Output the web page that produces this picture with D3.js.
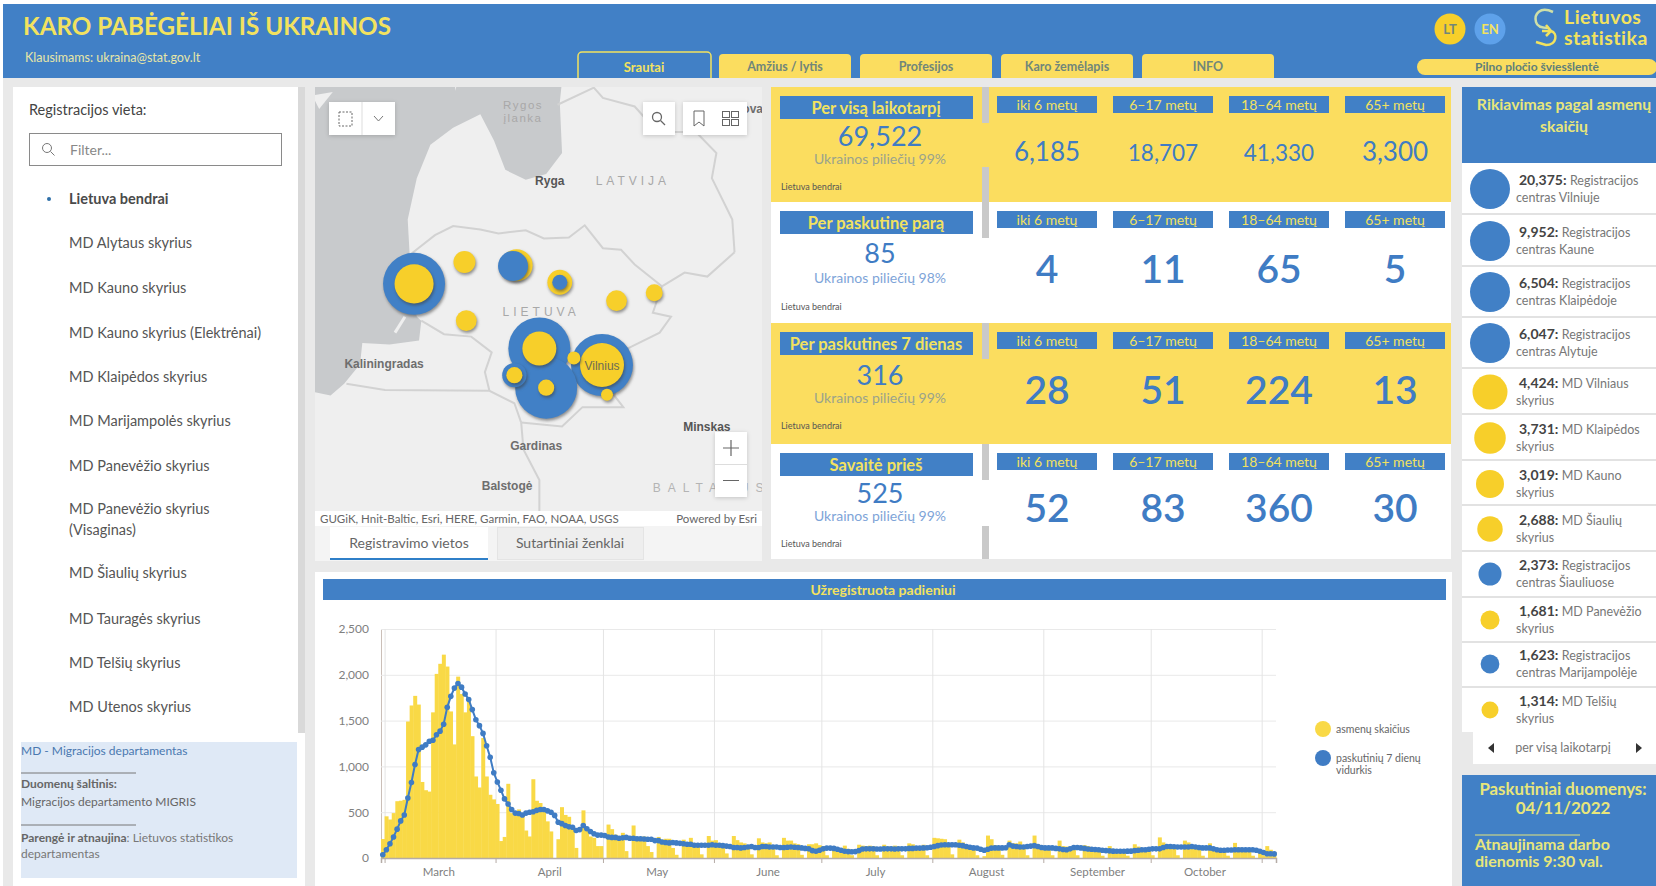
<!DOCTYPE html>
<html>
<head>
<meta charset="utf-8">
<title>Karo pabėgėliai iš Ukrainos</title>
<script src="https://cdn.jsdelivr.net/npm/d3@7"></script>
<style>
  html, body { margin: 0; padding: 0; background: #fff; overflow: hidden; }
  text { font-family: Lato, "Open Sans", sans-serif; }
  .map-label { font-family: "Liberation Sans", Arial, sans-serif; }
  .bubble { filter: drop-shadow(1.5px 2px 1.5px rgba(60, 60, 60, 0.55)); }
</style>
</head>
<body>
<div id="wrapper"></div>
<script>
// daily registrations
const febCounts = [207];
const marCounts = [455, 420, 490, 620, 625, 635, 1490, 1665, 1770, 1675, 830, 740, 725, 1590, 2010, 2120, 2220, 2090, 1600, 1240, 1980, 1790, 1590, 1750, 1330, 890, 770, 1310, 890, 690, 640];
const aprCounts = [590, 185, 230, 810, 490, 490, 530, 490, 300, 235, 860, 625, 600, 545, 400, 290, 0, 205, 555, 470, 450, 310, 110, 0, 520, 310, 235, 220, 130, 130];
const mayCounts = [0, 365, 315, 255, 235, 275, 75, 0, 355, 230, 230, 235, 130, 65, 0, 230, 200, 210, 210, 110, 35, 0, 200, 165, 220, 165, 145, 40, 0, 240, 190];
const junCounts = [195, 165, 150, 50, 0, 240, 195, 170, 160, 140, 40, 0, 215, 170, 160, 170, 140, 30, 0, 220, 190, 190, 160, 150, 35, 0, 150, 150, 160, 140];
const julCounts = [130, 30, 0, 130, 100, 60, 135, 100, 30, 0, 145, 135, 130, 135, 130, 30, 0, 145, 125, 125, 135, 125, 30, 0, 160, 150, 130, 130, 145, 30, 0];
const augCounts = [220, 215, 210, 205, 150, 40, 0, 200, 170, 130, 130, 120, 30, 0, 20, 245, 205, 140, 130, 35, 0, 190, 160, 160, 180, 130, 30, 0, 245, 150, 130];
const sepCounts = [125, 120, 30, 0, 190, 130, 125, 120, 115, 30, 0, 140, 130, 110, 100, 100, 25, 0, 130, 100, 95, 90, 90, 25, 0, 150, 125, 110, 100, 90];
const octCounts = [30, 0, 225, 170, 130, 125, 120, 30, 0, 190, 170, 130, 120, 110, 25, 0, 160, 115, 110, 100, 95, 25, 0, 165, 115, 110, 105, 100, 25, 0, 90];
const novCounts = [30, 130, 90, 65];

// last 7 days average
const febAvg = [35];
const marAvg = [90, 155, 230, 315, 405, 470, 655, 825, 1020, 1185, 1210, 1235, 1275, 1285, 1345, 1385, 1460, 1645, 1765, 1855, 1905, 1865, 1790, 1730, 1620, 1510, 1445, 1360, 1225, 1100, 930];
const aprAvg = [830, 740, 645, 590, 530, 490, 485, 470, 490, 500, 505, 520, 530, 530, 515, 500, 465, 390, 375, 355, 340, 335, 300, 310, 355, 320, 290, 265, 250, 250];
const mayAvg = [245, 230, 225, 225, 215, 220, 225, 215, 215, 210, 210, 208, 205, 205, 190, 190, 175, 170, 165, 170, 165, 160, 155, 150, 150, 140, 140, 140, 140, 140, 145];
const junAvg = [140, 140, 135, 130, 125, 115, 115, 110, 115, 120, 125, 115, 115, 125, 125, 120, 120, 120, 115, 115, 118, 120, 118, 115, 110, 105, 100, 80, 73, 85];
const julAvg = [100, 108, 108, 105, 95, 85, 73, 70, 68, 70, 80, 98, 100, 100, 100, 98, 98, 100, 100, 100, 98, 100, 100, 100, 105, 105, 108, 108, 110, 112, 118];
const augAvg = [125, 135, 142, 145, 145, 145, 145, 140, 135, 125, 118, 110, 108, 95, 85, 95, 108, 110, 110, 110, 112, 145, 130, 125, 120, 120, 125, 130, 135, 125, 115];
const sepAvg = [110, 110, 110, 105, 100, 92, 90, 100, 115, 115, 110, 105, 98, 95, 92, 90, 85, 80, 78, 75, 73, 73, 73, 75, 75, 80, 85, 90, 90, 95];
const octAvg = [100, 100, 100, 115, 125, 125, 122, 120, 120, 120, 120, 125, 120, 115, 110, 110, 110, 100, 90, 85, 85, 88, 88, 90, 90, 90, 90, 90, 90, 85, 73];
const novAvg = [60, 47, 47, 45];

const dailyCounts = [].concat(febCounts, marCounts, aprCounts, mayCounts, junCounts, julCounts, augCounts, sepCounts, octCounts, novCounts);
const dailyAvg = [].concat(febAvg, marAvg, aprAvg, mayAvg, junAvg, julAvg, augAvg, sepAvg, octAvg, novAvg);
const yTicks = [0, 500, 1000, 1500, 2000, 2500];

// summary table
const periodTitles = ["Per visą laikotarpį", "Per paskutinę parą", "Per paskutines 7 dienas", "Savaitė prieš"];
const periodTotals = ["69,522", "85", "316", "525"];
const periodShares = ["Ukrainos piliečių 99%", "Ukrainos piliečių 98%", "Ukrainos piliečių 99%", "Ukrainos piliečių 99%"];
const ageGroups = ["iki 6 metų", "6–17 metų", "18–64 metų", "65+ metų"];
const ageValues = [
  ["6,185", "18,707", "41,330", "3,300"],
  ["4", "11", "65", "5"],
  ["28", "51", "224", "13"],
  ["52", "83", "360", "30"],
];

// ranking on the right
const rankCounts = [20375, 9952, 6504, 6047, 4424, 3731, 3019, 2688, 2373, 1681, 1623, 1314];
const rankFirstLine = ["Registracijos", "Registracijos", "Registracijos", "Registracijos", "MD Vilniaus", "MD Klaipėdos", "MD Kauno", "MD Šiaulių", "Registracijos", "MD Panevėžio", "Registracijos", "MD Telšių"];
const rankSecondLine = ["centras Vilniuje", "centras Kaune", "centras Klaipėdoje", "centras Alytuje", "skyrius", "skyrius", "skyrius", "skyrius", "centras Šiauliuose", "skyrius", "centras Marijampolėje", "skyrius"];
const rankIsCentre = [true, true, true, true, false, false, false, false, true, false, true, false];

// filter list
const placeList = ["Lietuva bendrai", "MD Alytaus skyrius", "MD Kauno skyrius", "MD Kauno skyrius (Elektrėnai)", "MD Klaipėdos skyrius", "MD Marijampolės skyrius", "MD Panevėžio skyrius", "MD Panevėžio skyrius", "(Visaginas)", "MD Šiaulių skyrius", "MD Tauragės skyrius", "MD Telšių skyrius", "MD Utenos skyrius"];

// map bubbles: lon, lat, persons (small ones estimated)
const bubbleLon = [25.28, 23.9, 21.14, 24.05, 23.32, 24.35, 23.35, 25.28, 21.14, 23.9, 23.4, 24.35, 22.25, 22.29, 25.6, 26.43, 23.35, 24.05, 24.66, 25.39];
const bubbleLat = [54.69, 54.9, 55.71, 54.4, 55.93, 55.73, 54.56, 54.69, 55.71, 54.9, 55.94, 55.73, 55.98, 55.25, 55.5, 55.6, 54.56, 54.4, 54.78, 54.31];
const bubbleCount = [20375, 9952, 6504, 6047, 2373, 680, 1623, 4424, 3731, 3019, 2688, 1681, 1314, 1200, 1200, 850, 780, 780, 500, 400];
const bubbleIsCentre = [true, true, true, true, true, true, true, false, false, false, false, false, false, false, false, false, false, false, false, false];

// base map outlines as lon/lat
const seaOutline = [[17, 60], [24.5, 60], [24.45, 58.4], [24.35, 57.9], [24.4, 57.3], [24.05, 57.05], [23.6, 56.98], [23.15, 57.1], [22.9, 57.45], [22.6, 57.76], [22.0, 57.6], [21.5, 57.4], [21.2, 57.0], [21.0, 56.5], [21.05, 56.0], [21.07, 55.72], [21.2, 55.3], [21.3, 55.25], [21.25, 55.0], [20.6, 54.95], [20.0, 54.97], [19.95, 54.7], [19.6, 54.45], [19.3, 54.3], [18.9, 54.35], [18.6, 54.4], [17, 54.6]];
const saaremaaOutline = [[22.0, 58.4], [22.05, 58.03], [22.2, 58.4]];
const gotlandOutline = [[18.9, 57.98], [19.35, 58.02], [19.05, 57.82]];
const spitLine = [[20.94, 55.3], [20.72, 55.1]];
const borders = [
  [[21.05, 56.07], [21.6, 56.31], [22.0, 56.42], [22.6, 56.38], [23.0, 56.33], [23.6, 56.37], [24.0, 56.27], [24.55, 56.28], [24.9, 56.43], [25.3, 56.15], [25.7, 56.13], [26.0, 55.95], [26.6, 55.68]],
  [[26.6, 55.68], [26.4, 55.35], [26.8, 55.3], [26.55, 55.1], [25.85, 54.9], [25.75, 54.6], [25.55, 54.3], [25.75, 54.15], [25.5, 54.15], [24.85, 54.15], [24.4, 53.9], [23.5, 53.95]],
  [[21.3, 55.25], [21.8, 55.08], [22.4, 55.05], [22.85, 54.85], [22.7, 54.6], [22.8, 54.36]],
  [[19.65, 54.45], [20.5, 54.37], [22.8, 54.36], [23.35, 54.2], [23.5, 53.95]],
  [[23.5, 53.95], [23.55, 53.6], [23.9, 53.2], [23.9, 52.7]],
  [[26.6, 55.68], [27.1, 55.85], [27.6, 55.8], [28.2, 56.1]],
  [[24.3, 57.87], [25.1, 58.07], [25.3, 57.95], [26.0, 57.85], [26.5, 57.55], [27.35, 57.55], [27.8, 57.3], [27.7, 57.0], [28.15, 56.5], [28.2, 56.1]],
];
const cityNames = ["Ryga", "Kaliningradas", "Gardinas", "Minskas", "Balstogė", "ova", "Gdańskas"];
const cityCoords = [[24.13, 56.97], [20.48, 54.7], [23.83, 53.65], [27.59, 53.89], [23.19, 53.12], [28.6, 57.82], [18.15, 54.35]];
const areaNames = ["Rygos", "įlanka", "LATVIJA", "LIETUVA"];
const areaCoords = [[23.54, 57.87], [23.54, 57.71], [25.96, 56.97], [23.94, 55.36]];

const blue = "#4180c6";
const yellow = "#f9d946";
const rowYellow = "#fbdd5f";
const bubbleYellow = "#f7cf2a";
const titleYellow = "#f2e25f";
const pale = "#e9e9e9";

const wrapper = d3
  .select("#wrapper")
  .append("svg")
  .attr("width", 1656)
  .attr("height", 886)
  .style("display", "block");

function rect(parent, x, y, w, h, fill, rx) {
  return parent
    .append("rect")
    .attr("x", x)
    .attr("y", y)
    .attr("width", w)
    .attr("height", h)
    .attr("fill", fill)
    .attr("rx", rx || 0);
}

function label(parent, x, y, str, size, fill, anchor, weight) {
  return parent
    .append("text")
    .attr("x", x)
    .attr("y", y)
    .attr("font-size", size)
    .attr("fill", fill)
    .attr("text-anchor", anchor || "start")
    .attr("font-weight", weight || 400)
    .text(str);
}

function hline(parent, x1, x2, y, color) {
  return parent
    .append("line")
    .attr("x1", x1)
    .attr("x2", x2)
    .attr("y1", y)
    .attr("y2", y)
    .attr("stroke", color)
    .attr("stroke-width", 1);
}

// header

const header = wrapper.append("g");
rect(header, 3, 4, 1653, 76, blue);
label(header, 23, 35, "KARO PABĖGĖLIAI IŠ UKRAINOS", 25, titleYellow, "start", 700)
  .attr("textLength", 368)
  .attr("lengthAdjust", "spacingAndGlyphs");
label(header, 25, 62, "Klausimams: ukraina@stat.gov.lt", 12.5, "#e6e6a6");

const tabNames = ["Amžius / lytis", "Profesijos", "Karo žemėlapis", "INFO"];
const tabScale = d3.scalePoint().domain(tabNames).range([785, 1208]);
tabNames.forEach((name) => {
  rect(header, tabScale(name) - 66, 54, 132, 30, rowYellow, 4);
  label(header, tabScale(name), 71, name, 12.5, "#71867a", "middle", 700);
});

rect(header, 578, 52, 133, 32, blue, 4)
  .attr("stroke", "#f2e25f")
  .attr("stroke-width", 1.5);
label(header, 644, 72, "Srautai", 13, titleYellow, "middle", 700);

rect(header, 1417, 59, 240, 16, rowYellow, 8);
label(header, 1537, 71, "Pilno pločio šviesšlentė", 12, "#5f7f7a", "middle", 700);

header.append("circle").attr("cx", 1450).attr("cy", 29).attr("r", 15.5).attr("fill", "#f7cf2a");
label(header, 1450, 34, "LT", 13, "#71867a", "middle", 700);
header.append("circle").attr("cx", 1490).attr("cy", 29).attr("r", 15.5).attr("fill", "#5ea1ea");
label(header, 1490, 34, "EN", 13, titleYellow, "middle", 700);

// logo swirl
header
  .append("path")
  .attr("d", "M1553 12 C1540 6 1534 14 1536 22 C1537 27 1543 28 1549 28")
  .attr("fill", "none")
  .attr("stroke", "#cfe0a8")
  .attr("stroke-width", 2.5);
header
  .append("path")
  .attr("d", "M1542 31 L1551 31 C1558 33 1557 45 1546 45 L1536 42 M1546 25 L1551 31 L1546 36")
  .attr("fill", "none")
  .attr("stroke", titleYellow)
  .attr("stroke-width", 2.5);
label(header, 1564, 24, "Lietuvos", 19.5, titleYellow, "start", 700).attr("letter-spacing", 0.5);
label(header, 1564, 45, "statistika", 19.5, titleYellow, "start", 700).attr("letter-spacing", 0.5);

// body background, covers the lower edge of the tabs
rect(wrapper, 0, 78, 1656, 808, pale);
rect(wrapper, 0, 0, 3, 886, "#fff");

// left panel

const leftPanel = wrapper.append("g");
rect(leftPanel, 13, 87, 292, 799, "#fff");
rect(leftPanel, 298, 87, 7, 646, "#d9d9d9");
label(leftPanel, 29, 115, "Registracijos vieta:", 14.5, "#444");
rect(leftPanel, 29.5, 133.5, 252, 32, "#fff").attr("stroke", "#8a8a8a");
leftPanel.append("circle").attr("cx", 47).attr("cy", 148).attr("r", 4.5).attr("fill", "none").attr("stroke", "#777");
leftPanel.append("line").attr("x1", 50.5).attr("y1", 151.5).attr("x2", 54.5).attr("y2", 155.5).attr("stroke", "#777");
label(leftPanel, 70, 155, "Filter...", 14, "#888");

// baselines from the list widget, Visaginas wraps to a second line
const placeBaselines = [204, 248, 293, 338, 382, 426, 471, 514, 535, 578, 624, 668, 712];
leftPanel
  .selectAll("text.place")
  .data(placeList)
  .enter()
  .append("text")
  .attr("class", "place")
  .attr("x", 69)
  .attr("y", (d, i) => placeBaselines[i])
  .attr("font-size", 14.5)
  .attr("font-weight", (d, i) => (i === 0 ? 700 : 400))
  .attr("fill", (d, i) => (i === 0 ? "#4a4a4a" : "#555"))
  .text((d) => d);
leftPanel.append("circle").attr("cx", 49).attr("cy", 199).attr("r", 2).attr("fill", "#2f6fa8");

rect(leftPanel, 21, 742, 276, 136, "#dfe9f6");
label(leftPanel, 21, 755, "MD - Migracijos departamentas", 12, "#4a78b0");
hline(leftPanel, 21, 136, 773, "#777");
label(leftPanel, 21, 788, "Duomenų šaltinis:", 12, "#666", "start", 700);
label(leftPanel, 21, 806, "Migracijos departamento MIGRIS", 12, "#666");
hline(leftPanel, 21, 136, 825, "#777");
const preparedBy = label(leftPanel, 21, 842, "", 12, "#777");
preparedBy.append("tspan").attr("font-weight", 700).attr("fill", "#666").text("Parengė ir atnaujina");
preparedBy.append("tspan").text(": Lietuvos statistikos");
label(leftPanel, 21, 858, "departamentas", 12, "#777");

// map panel

const mapPanel = wrapper.append("g");
rect(mapPanel, 315, 87, 447, 474, "#f4f4f4");

const clip = wrapper.append("clipPath").attr("id", "map-clip");
rect(clip, 315, 87, 447, 424, "#fff");

const mapArea = mapPanel.append("g").attr("clip-path", "url(#map-clip)");
rect(mapArea, 315, 87, 447, 424, "#efefef");

const projection = d3.geoMercator().scale(2601).center([25.28, 54.69]).translate([602, 365]);
const lonLatLine = d3
  .line()
  .x((d) => projection(d)[0])
  .y((d) => projection(d)[1]);

mapArea.append("path").attr("d", lonLatLine(seaOutline) + "Z").attr("fill", "#c8cacc");
mapArea.append("path").attr("d", lonLatLine(saaremaaOutline) + "Z").attr("fill", "#efefef");
mapArea.append("path").attr("d", lonLatLine(gotlandOutline) + "Z").attr("fill", "#efefef");
mapArea
  .append("path")
  .attr("d", lonLatLine(spitLine))
  .attr("fill", "none")
  .attr("stroke", "#efefef")
  .attr("stroke-width", 3);
mapArea
  .selectAll("path.border")
  .data(borders)
  .enter()
  .append("path")
  .attr("class", "border")
  .attr("d", (d) => lonLatLine(d))
  .attr("fill", "none")
  .attr("stroke", "#d2d2d2")
  .attr("stroke-width", 2);

mapArea
  .selectAll("text.area")
  .data(areaNames)
  .enter()
  .append("text")
  .attr("class", "area map-label")
  .attr("x", (d, i) => projection(areaCoords[i])[0])
  .attr("y", (d, i) => projection(areaCoords[i])[1] + 4)
  .attr("text-anchor", "middle")
  .attr("font-size", (d, i) => (i < 2 ? 11.5 : 12))
  .attr("letter-spacing", (d, i) => (i < 2 ? 1.5 : 4))
  .attr("fill", "#a8a8a8")
  .text((d) => d);

mapArea
  .selectAll("text.city")
  .data(cityNames)
  .enter()
  .append("text")
  .attr("class", "city map-label")
  .attr("x", (d, i) => projection(cityCoords[i])[0])
  .attr("y", (d, i) => projection(cityCoords[i])[1] + 4)
  .attr("text-anchor", "middle")
  .attr("font-size", 12)
  .attr("font-weight", 700)
  .attr("fill", (d, i) => (i === 0 || i === 3 ? "#555" : "#6e6e6e"))
  .text((d) => d);

const mapRadius = d3
  .scaleLinear()
  .domain([400, 1314, 2373, 3019, 4424, 6047])
  .range([6, 11, 15, 17, 22, 31])
  .clamp(true);

const bubbleOrder = d3.range(bubbleCount.length).sort((a, b) => mapRadius(bubbleCount[b]) - mapRadius(bubbleCount[a]));

mapArea
  .selectAll("circle.bubble")
  .data(bubbleOrder)
  .enter()
  .append("circle")
  .attr("class", "bubble")
  .attr("cx", (i) => projection([bubbleLon[i], bubbleLat[i]])[0])
  .attr("cy", (i) => projection([bubbleLon[i], bubbleLat[i]])[1])
  .attr("r", (i) => mapRadius(bubbleCount[i]))
  .attr("fill", (i) => (bubbleIsCentre[i] ? blue : bubbleYellow));

const vilniusPos = projection([25.28, 54.69]);
label(mapArea, vilniusPos[0], vilniusPos[1] + 5, "Vilnius", 12, "#6b6b55", "middle", 400).attr("class", "map-label");

label(mapArea, projection([26.4, 53.1])[0], projection([26.4, 53.1])[1] + 4, "BALTARUSIJA", 12, "#b4b4b4")
  .attr("class", "map-label")
  .attr("letter-spacing", 7);

// map widgets
function widget(x, y, w, h) {
  return rect(mapPanel, x, y, w, h, "#fff").style("filter", "drop-shadow(0 1px 2px rgba(0,0,0,0.18))");
}
widget(329, 102, 66, 33);
mapPanel.append("line").attr("x1", 362).attr("x2", 362).attr("y1", 102).attr("y2", 135).attr("stroke", "#ddd");
rect(mapPanel, 339, 112, 13, 14, "none").attr("stroke", "#666").attr("stroke-dasharray", "2 1.5");
mapPanel.append("path").attr("d", "M374 116 L378.5 121 L383 116").attr("fill", "none").attr("stroke", "#777");
widget(643, 102, 32, 33);
mapPanel.append("circle").attr("cx", 657).attr("cy", 117).attr("r", 4.5).attr("fill", "none").attr("stroke", "#666").attr("stroke-width", 1.3);
mapPanel.append("line").attr("x1", 660.5).attr("y1", 120.5).attr("x2", 665).attr("y2", 125).attr("stroke", "#666").attr("stroke-width", 1.3);
widget(683, 102, 64, 33);
mapPanel.append("path").attr("d", "M694 111 H704 V126 L699 122 L694 126 Z").attr("fill", "none").attr("stroke", "#666");
d3.range(4).forEach((i) => {
  rect(mapPanel, 722.5 + (i % 2) * 9, 111.5 + Math.floor(i / 2) * 8, 7, 6, "none").attr("stroke", "#666");
});
widget(715, 432, 32, 65);
hline(mapPanel, 715, 747, 464.5, "#ddd");
mapPanel.append("path").attr("d", "M723 448 H739 M731 440 V456 M723 480.5 H739").attr("stroke", "#666").attr("stroke-width", 1.2);

rect(mapPanel, 315, 511, 447, 15, "#fff");
label(mapPanel, 320, 523, "GUGiK, Hnit-Baltic, Esri, HERE, Garmin, FAO, NOAA, USGS", 11.5, "#666");
label(mapPanel, 757, 523, "Powered by Esri", 11.5, "#666", "end");

rect(mapPanel, 330, 527, 158, 33, "#fff");
rect(mapPanel, 330, 558, 158, 2, "#2f7fc8");
label(mapPanel, 409, 548, "Registravimo vietos", 14, "#666", "middle");
rect(mapPanel, 497.5, 527.5, 146, 32, "#eeeeee").attr("stroke", "#e4e4e4");
label(mapPanel, 570, 548, "Sutartiniai ženklai", 14, "#666", "middle");

// summary table

const table = wrapper.append("g");
const rowTop = [87, 202, 323, 444];
const rowBottom = [202, 323, 444, 559];
const ageCenter = d3.scalePoint().domain(d3.range(4)).range([1047, 1395]);
const totalBaseline = [59, 61, 62, 59];
const shareBaseline = [77, 81, 80, 77];
const footBaseline = [103, 108, 106, 103];
const valueBaseline = [74, 81, 81, 78];

function valueSize(r, value) {
  if (r > 0) return 39;
  return value.length > 5 ? 22.5 : 26;
}

periodTitles.forEach((title, r) => {
  const top = rowTop[r];
  const isYellow = r % 2 === 0;
  rect(table, 771, top, 680, rowBottom[r] - top, isYellow ? rowYellow : "#fff");
  rect(table, 780, top + 9, 193, 23, blue);
  label(table, 876, top + 27, title, 16.5, titleYellow, "middle", 700);
  label(table, 880, top + totalBaseline[r], periodTotals[r], 27, "#3f7cc4", "middle");
  label(table, 880, top + shareBaseline[r], periodShares[r], 14, isYellow ? "#9aa38c" : "#7ea4d8", "middle");
  label(table, 781, top + footBaseline[r], "Lietuva bendrai", 9, "#555");
  rect(table, 982, top, 7, 36, "#c9c9c9");
  ageGroups.forEach((group, c) => {
    const x = ageCenter(c);
    rect(table, x - 50, top + 9, 100, 17, blue);
    label(table, x, top + 22.5, group, 14, titleYellow, "middle");
    label(table, x, top + valueBaseline[r], ageValues[r][c], valueSize(r, ageValues[r][c]), "#3f7cc4", "middle", r === 0 ? 400 : 600);
  });
});
rect(table, 982, 167, 7, 35, "#c9c9c9");
rect(table, 982, 526, 7, 33, "#c9c9c9");

// daily chart

const dimensions = {
  left: 381,
  right: 1276,
  top: 629,
  bottom: 858,
};
const chartPanel = wrapper.append("g");
rect(chartPanel, 315, 572, 1137, 314, "#fff");
rect(chartPanel, 323, 579, 1123, 21, blue);
label(chartPanel, 883, 595, "Užregistruota padieniui", 14, titleYellow, "middle", 700);

const days = d3.utcDay.range(new Date(Date.UTC(2022, 1, 28)), new Date(Date.UTC(2022, 10, 5)));
const monthStarts = d3.utcMonth.range(new Date(Date.UTC(2022, 2, 1)), new Date(Date.UTC(2022, 10, 2)));
const monthLabels = d3.utcMonth
  .range(new Date(Date.UTC(2022, 2, 1)), new Date(Date.UTC(2022, 9, 2)))
  .map((d) => d3.utcDay.offset(d, 15));

const xScale = d3
  .scaleUtc()
  .domain([days[0], d3.utcDay.offset(days[days.length - 1], 1)])
  .range([dimensions.left, dimensions.right]);
const yScale = d3.scaleLinear().domain([0, 2500]).range([dimensions.bottom, dimensions.top]);
const barWidth = xScale(days[1]) - xScale(days[0]);

const yGrid = chartPanel
  .append("g")
  .attr("transform", `translate(${dimensions.left}, 0)`)
  .call(d3.axisLeft(yScale).tickValues(yTicks).tickSize(-(dimensions.right - dimensions.left)).tickFormat(d3.format(",")));
yGrid.select(".domain").attr("stroke", "#cbbfb8");
yGrid.selectAll("line").attr("stroke", "#e9e9e9");
yGrid.selectAll("text").attr("x", -12).attr("fill", "#808080").attr("font-size", 12);

const xGrid = chartPanel
  .append("g")
  .attr("transform", `translate(0, ${dimensions.bottom})`)
  .call(d3.axisBottom(xScale).tickValues(monthStarts).tickSize(-(dimensions.bottom - dimensions.top)).tickFormat(""));
xGrid.select(".domain").remove();
xGrid.selectAll("line").attr("stroke", "#e4e4e4");

chartPanel
  .selectAll("rect.bar")
  .data(dailyCounts)
  .enter()
  .append("rect")
  .attr("class", "bar")
  .attr("x", (d, i) => xScale(days[i]))
  .attr("y", (d) => yScale(d))
  .attr("width", barWidth + 0.4)
  .attr("height", (d) => yScale(0) - yScale(d))
  .attr("fill", yellow);

const xTicks = chartPanel
  .append("g")
  .attr("transform", `translate(0, ${dimensions.bottom})`)
  .call(d3.axisBottom(xScale).tickValues(monthStarts).tickSize(5).tickFormat(""));
xTicks.select(".domain").attr("stroke", "#b5aca6").attr("stroke-width", 1.5);
xTicks.selectAll("line").attr("stroke", "#b5aca6");

const xLabels = chartPanel
  .append("g")
  .attr("transform", `translate(0, ${dimensions.bottom})`)
  .call(d3.axisBottom(xScale).tickValues(monthLabels).tickSize(0).tickPadding(10).tickFormat(d3.utcFormat("%B")));
xLabels.select(".domain").remove();
xLabels.selectAll("text").attr("fill", "#808080").attr("font-size", 11.5);

const avgLine = d3
  .line()
  .x((d, i) => xScale(days[i]) + barWidth / 2)
  .y((d) => yScale(d));
chartPanel
  .append("path")
  .attr("d", avgLine(dailyAvg))
  .attr("fill", "none")
  .attr("stroke", "#3f7cc4")
  .attr("stroke-width", 2);
chartPanel
  .selectAll("circle.avg")
  .data(dailyAvg)
  .enter()
  .append("circle")
  .attr("class", "avg")
  .attr("cx", (d, i) => xScale(days[i]) + barWidth / 2)
  .attr("cy", (d) => yScale(d))
  .attr("r", 2.8)
  .attr("fill", "#3f7cc4");

chartPanel.append("circle").attr("cx", 1323).attr("cy", 729).attr("r", 8).attr("fill", yellow);
label(chartPanel, 1336, 733, "asmenų skaičius", 10.5, "#666");
chartPanel.append("circle").attr("cx", 1323).attr("cy", 758).attr("r", 8).attr("fill", "#3f7cc4");
label(chartPanel, 1336, 762, "paskutinių 7 dienų", 10.5, "#666");
label(chartPanel, 1336, 774, "vidurkis", 10.5, "#666");

// ranking panel

const rankPanel = wrapper.append("g");
rect(rankPanel, 1462, 87, 194, 76, blue);
label(rankPanel, 1564, 110, "Rikiavimas pagal asmenų", 15.8, "#e8e67a", "middle", 700);
label(rankPanel, 1564, 132, "skaičių", 15.8, "#e8e67a", "middle", 700);
rect(rankPanel, 1462, 163, 194, 569, "#fff");

const rankEdges = [214, 266, 317, 368, 414, 460, 505, 551, 597, 642, 687];
rankEdges.forEach((y) => {
  rect(rankPanel, 1462, y - 1, 194, 2, "#e2e2e2");
});
const rankCenters = [189, 241, 292, 343, 392, 438, 484, 529, 574, 620, 664, 710];

const rankRadius = d3
  .scaleLinear()
  .domain([1314, 2373, 3019, 4424, 6047])
  .range([8.5, 11.5, 14, 17.5, 20])
  .clamp(true);

rankPanel
  .selectAll("circle.rank")
  .data(rankCounts)
  .enter()
  .append("circle")
  .attr("class", "rank")
  .attr("cx", 1490)
  .attr("cy", (d, i) => rankCenters[i])
  .attr("r", (d) => rankRadius(d))
  .attr("fill", (d, i) => (rankIsCentre[i] ? blue : bubbleYellow));

rankCounts.forEach((count, i) => {
  const firstLine = label(rankPanel, 1519, rankCenters[i] - 4, "", 12.5, "#777");
  firstLine
    .append("tspan")
    .attr("font-weight", 700)
    .attr("font-size", 14)
    .attr("fill", "#444")
    .text(d3.format(",")(count) + ": ");
  firstLine.append("tspan").text(rankFirstLine[i]);
  label(rankPanel, 1516, rankCenters[i] + 13, rankSecondLine[i], 12.5, "#777");
});

rect(rankPanel, 1473, 732, 183, 32, "#fff");
rankPanel.append("path").attr("d", "M1494 743 L1488 748 L1494 753 Z").attr("fill", "#333");
label(rankPanel, 1563, 752, "per visą laikotarpį", 12.5, "#777", "middle");
rankPanel.append("path").attr("d", "M1636 743 L1642 748 L1636 753 Z").attr("fill", "#333");

rect(rankPanel, 1462, 775, 194, 111, blue);
label(rankPanel, 1563, 795, "Paskutiniai duomenys:", 16.8, "#e8e67a", "middle", 700);
label(rankPanel, 1563, 814, "04/11/2022", 17, "#e8e67a", "middle", 700);
hline(rankPanel, 1475, 1580, 835, "#e8e67a");
label(rankPanel, 1475, 850, "Atnaujinama darbo", 16, "#e8e67a", "start", 700);
label(rankPanel, 1475, 867, "dienomis 9:30 val.", 16, "#e8e67a", "start", 700);
</script>
</body>
</html>
